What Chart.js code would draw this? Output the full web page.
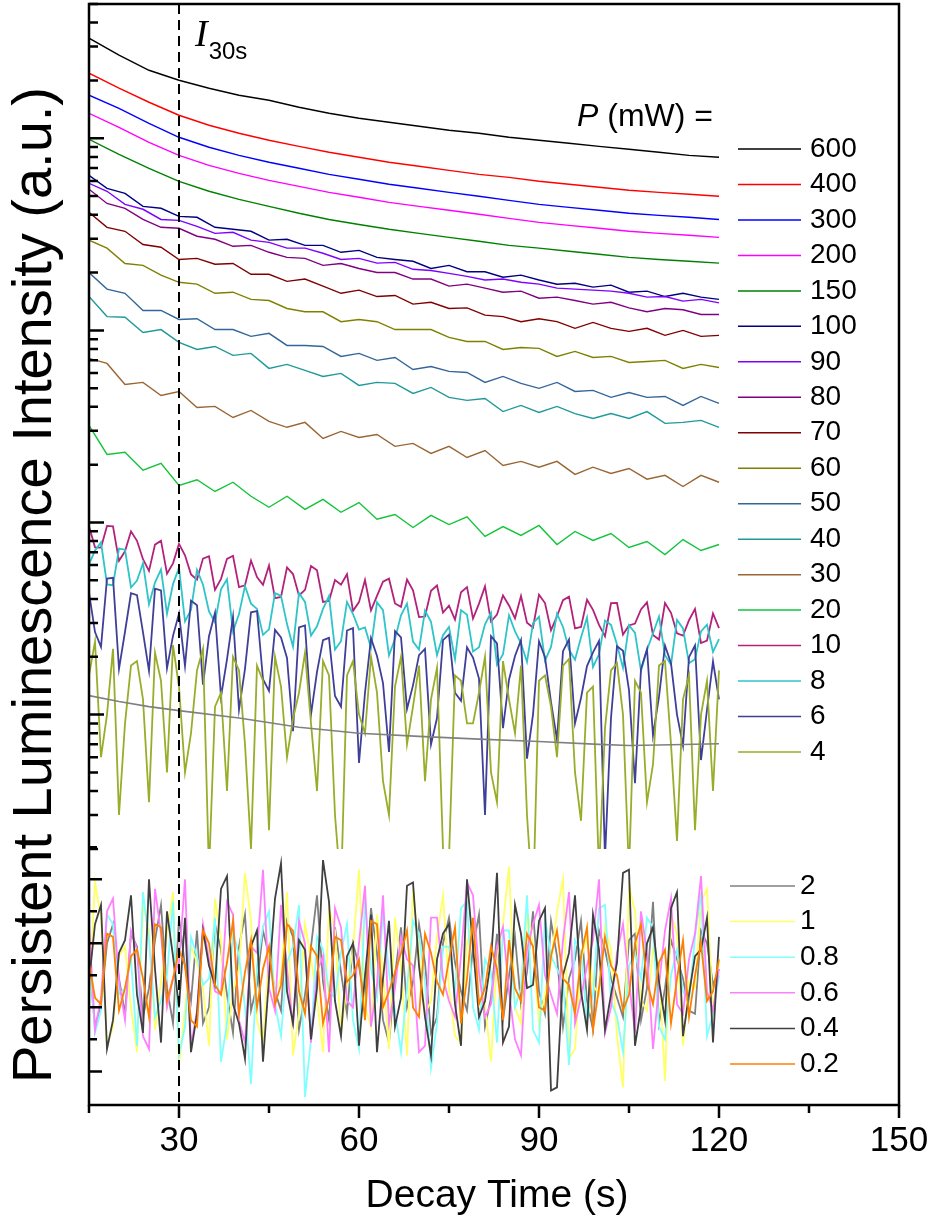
<!DOCTYPE html>
<html>
<head>
<meta charset="utf-8">
<script src="https://cdn.jsdelivr.net/npm/chart.js@4.4.1/dist/chart.umd.min.js"></script>
<style>
  html, body { margin: 0; padding: 0; background: #fff; }
  canvas { display: block; }
</style>
</head>
<body>
<canvas id="decayChart" width="935" height="1228"></canvas>
<script>
// --- sample times (s) ---
const t5 = [15,20,25,30,35,40,45,50,55,60,65,70,75,80,85,90,95,100,105,110,115,120];
const t3 = [15,18,21,24,27,30,33,36,39,42,45,48,51,54,57,60,63,66,69,72,75,78,81,84,87,90,93,96,99,102,105,108,111,114,117,120];
const t2 = [15,17,19,21,23,25,27,29,31,33,35,37,39,41,43,45,47,49,51,53,55,57,59,61,63,65,67,69,71,73,75,77,79,81,83,85,87,89,91,93,95,97,99,101,103,105,107,109,111,113,115,117,119,120];
const t2b = [16,18,20,22,24,26,28,30,32,34,36,38,40,42,44,46,48,50,52,54,56,58,60,62,64,66,68,70,72,74,76,78,80,82,84,86,88,90,92,94,96,98,100,102,104,106,108,110,112,114,116,118];
const tGray = [15,20,25,30,40,50,60,70,80,90,100,105,110,120];

// --- upper panel (log axis), intensity in a.u. ---
const p600 = [3319,2706,2260,2005,1821,1675,1578,1450,1349,1271,1211,1155,1101,1062,1012,977,942,908,877,846,815,796];
const p400 = [2181,1822,1540,1318,1169,1062,976,908,846,796,750,715,681,649,626,597,576,556,536,523,511,499];
const p300 = [1675,1433,1197,1012,898,815,750,698,649,612,576,549,523,499,475,453,437,422,407,397,388,378];
const p200 = [1349,1141,953,815,723,657,604,562,523,493,464,442,422,402,383,365,352,340,328,320,313,305];
const p150 = [988,825,698,597,530,481,442,407,378,356,336,320,305,291,277,268,258,249,240,234,229,224];
const p100 = [641,549,517,442,432,392,388,344,336,328,295,298,277,277,255,261,240,234,229,210,218,202,202,189,194,183,174,176,168,172,158,160,150,156,149,145];
const p90 = [583,530,453,427,378,374,348,320,324,295,287,268,268,252,234,237,224,226,208,205,198,191,183,185,178,174,166,164,162,160,156,149,150,142,145,139];
const p80 = [543,458,432,378,344,340,309,298,274,277,255,240,237,218,223,210,200,200,185,185,170,174,166,158,160,147,149,143,137,140,131,125,130,128,121,121];
const p70 = [412,344,328,280,271,234,237,221,223,196,196,180,185,170,156,162,150,152,137,140,130,131,120,118,111,115,111,102.5,110,102.5,98.8,102.5,94.2,100,93.1,94.2];
const p60 = [295,268,223,218,194,178,174,156,158,145,143,130,125,125,111,114,111,101,101,101,91.9,87.6,87.6,79.6,81.5,80.6,73.2,77.7,72.3,73.2,68.1,68.9,69.8,63.4,66.5,64.1];
const p50 = [200,164,156,127,127,114,115,101,101,93.1,96.5,83.5,83.5,82.5,73.2,75.9,69.8,72.3,62.6,64.9,61.2,60.4,53.6,57.6,53.0,49.9,53.6,48.1,48.7,44.8,47.5,44.8,45.3,40.7,45.3,41.7];
const p40 = [150,118,117,97.6,101,86.6,79.6,82.5,74.1,75.9,63.4,66.5,61.9,57.6,59.7,51.7,53.6,53.0,47.0,50.5,44.8,43.2,44.2,37.8,40.7,37.4,40.2,36.9,34.8,36.9,34.8,37.8,32.8,33.2,34.0,31.3];
const p30 = [71.5,67.3,52.3,53.6,45.8,48.1,39.7,40.2,35.2,38.3,33.6,31.3,33.2,27.4,29.8,27.7,28.7,24.9,25.8,22.9,24.9,21.8,23.7,19.8,20.8,19.4,20.8,17.8,19.4,18.0,19.1,16.8,17.6,15.4,17.6,16.2];
const p20 = [32.0,22.6,23.2,18.7,20.3,15.6,16.7,14.5,16.2,13.7,12.0,13.7,11.7,13.2,11.3,12.7,10.4,11.0,9.42,10.9,9.76,10.7,8.46,9.53,8.56,9.65,7.68,8.98,8.06,8.76,7.41,7.96,6.81,8.15,7.15,7.68];
// noisy series: values at t2 plus values at t2b
const p10 = [9.56,7.40,9.56,7.08,8.03,5.60,8.04,6.13,6.75,5.04,6.67,5.09,6.71,4.71,5.2,5.97,4.1,5.39,4.46,5.64,3.91,4.75,3.47,5.02,4.15,5.1,3.64,4.43,3.24,4.70,3.69,4.33,3.16,4.65,3.32,3.70,4.14,2.84,3.81,3.25,4.11,2.86,3.51,2.56,3.81,2.91,3.53,2.60,3.81,2.65,3.10,2.36,3.36,2.82];
const p10b = [7.43,9.60,6.32,9.0,6.44,7.67,5.41,7.75,5.37,6.49,4.46,6.47,4.61,6.34,4.74,4.04,5.84,4.17,5.94,3.86,5.02,5.38,3.85,3.49,4.92,3.79,5.05,3.22,4.41,3.40,3.12,4.61,3.78,3.05,4.17,3.17,3.01,4.21,2.75,3.94,2.81,3.96,2.93,3.80,2.61,2.98,3.84,2.46,3.39,2.58,3.55,2.43];
const p8 = [6.06,7.88,4.72,7.22,4.99,3.75,5.7,4.78,3.06,5.67,3.44,4.49,2.71,4.67,3.55,2.78,4.15,2.26,3.86,2.88,4.14,2.41,3.34,2.84,3.84,2.03,3.29,2.40,3.48,2.04,2.86,3.50,2.13,2.95,1.82,3.29,2.35,2.99,1.91,3.35,2.18,2.52,1.77,3.09,2.32,2.92,1.69,2.65,2.04,3.11,1.85,2.71,2.12,2.47];
const p8b = [7.15,4.76,7.32,4.59,6.14,4.87,3.35,5.80,3.51,4.74,3.02,5.06,3.34,3.78,2.60,4.29,2.96,4.29,2.58,3.55,2.18,3.86,2.77,2.23,3.50,2.48,3.78,2.18,3.04,2.59,1.94,3.31,2.24,3.39,2.06,2.71,1.88,3.23,2.25,2.86,1.93,3.20,2.06,2.93,1.75,2.66,2.17,3.24,1.82,2.81,1.94,2.94];
const p6 = [4.32,2.25,5.15,2.70,4.19,1.69,4.43,2.57,1.79,3.71,2.56,1.24,3.23,1.73,3.46,1.33,2.52,0.82,2.91,1.67,2.51,1.10,2.82,1.30,2.02,0.64,2.52,1.42,2.20,0.96,2.61,1.18,1.98,0.3,2.35,1.52,2.44,1.00,1.99,0.74,2.46,1.22,2.11,0.18,2.27,1.34,1.73,0.78,2.29,1.00,1.99,0.58,1.89,1.20];
const p6b = [2.69,5.11,1.73,4.29,2.68,4.52,1.74,3.36,3.92,1.43,3.39,1.94,1.06,3.41,1.53,2.76,1.97,2.84,1.0,2.44,1.25,2.74,0.56,2.50,1.46,2.72,1.07,2.04,0.70,2.44,1.30,2.24,1.54,2.56,0.85,2.02,0.59,2.41,1.16,2.14,0.90,1.79,2.42,0.96,2.15,0.44,2.19,1.24,1.85,0.69,2.29,1.06];
const p4 = [1.6,0.6,2.2,0.9,1.9,0.35,1.5,2.3,0.5,1.7,0.15,1.3,2.0,0.7,1.8,0.25,1.4,0.95,2.1,0.4,1.6,0.12,1.9,0.8,1.3,0.3,2.0,1.1,0.45,1.75,0.18,1.5,0.9,2.0,0.35,1.2,1.8,0.1,1.6,0.6,1.95,0.28,1.4,0.85,1.85,0.15,1.3,0.55,1.9,0.22,1.6,1.0,0.4,1.7];
const p4b = [2.4,1.0,0.3,1.8,1.2,2.1,0.5,1.4,0.8,2.2,1.1,0.4,1.7,0.2,1.5,2.0,0.6,1.3,0.9,1.9,0.3,1.6,1.0,2.0,0.45,1.4,0.7,1.8,1.2,0.2,1.6,0.9,1.3,0.5,1.9,0.8,0.3,1.5,1.1,1.8,0.5,1.3,0.15,1.7,1.0,1.5,0.35,1.8,0.7,1.2,0.25,1.5];
const pGray = [1.256,1.17,1.10,1.049,0.96,0.86,0.80,0.77,0.745,0.725,0.70,0.69,0.695,0.705];

// --- lower panel (linear axis) ---
const p2 = [3.5,2.1,4.6,1.8,3.9,2.6,5.2,1.5,3.3,4.4,2.0,3.8,1.2,4.9,2.7,3.6,1.9,4.2,2.4,5.5,1.6,3.1,4.0,2.2,3.7,0.9,4.5,2.8,3.4,1.7,4.8,2.5,3.9,1.4,4.3,3.0,2.1,5.0,1.8,3.6,2.9,4.7,1.3,3.8,2.3,4.1,1.6,5.3,2.6,3.5,1.9,4.4,2.7,3.2];
const p2b = [1.4,4.0,2.9,4.3,1.7,4.1,2.6,4.8,2.2,1.5,4.6,2.4,3.9,1.9,4.4,2.5,4.7,1.3,3.9,2.8,4.5,1.8,3.3,5.1,1.6,3.0,2.0,4.6,1.2,4.0,3.4,1.9,4.9,2.3,1.6,4.2,3.1,2.5,4.7,1.4,3.5,2.2,4.4,2.9,1.7,4.3,2.6,1.5,4.1,2.9,1.8,4.0];
const p1 = [2.2,4.8,1.4,3.9,0.6,4.4,2.8,5.6,1.9,3.4,0.8,4.1,2.5,6.2,1.6,3.7,2.9,0.5,4.6,2.3,5.1,1.2,3.8,2.0,4.9,0.7,3.3,5.7,1.8,4.2,2.6,0.9,4.7,2.1,3.6,6.4,1.5,3.9,2.4,5.0,0.4,3.5,2.7,4.5,1.1,5.8,2.2,3.8,-0.3,4.3,2.8,5.3,1.7,3.4];
const p1b = [5.9,0.8,3.6,2.0,5.2,1.3,4.3,0.2,3.9,2.6,5.4,1.0,3.2,4.7,0.9,2.5,5.6,1.8,3.5,0.6,4.4,2.7,6.3,1.4,3.1,4.8,0.5,3.7,2.2,5.5,1.1,4.0,2.9,0.3,4.6,2.0,5.1,1.5,3.4,6.0,0.7,4.2,2.4,3.8,-0.5,5.0,1.9,3.3,4.9,0.8,2.6,5.7];
const p08 = [3.8,1.9,4.6,2.6,0.8,4.1,2.2,5.3,1.4,3.6,2.9,0.3,4.4,2.0,3.3,5.0,1.1,3.9,-0.8,4.2,2.5,3.7,1.6,5.4,2.3,3.1,0.6,4.7,2.8,1.5,3.9,5.1,2.0,3.5,0.9,4.4,2.6,1.3,4.8,3.2,0.2,3.7,2.4,5.2,1.7,3.3,2.9,4.5,1.0,3.8,2.2,5.6,1.8,3.0];
const p08b = [1.2,4.9,2.4,3.5,5.6,1.7,3.0,0.5,4.2,2.7,4.8,1.5,3.6,-0.4,4.5,2.1,3.4,5.2,1.0,3.8,2.3,4.6,0.7,3.2,5.0,1.9,2.6,4.3,0.1,3.9,2.5,5.3,1.3,3.1,4.4,2.0,5.5,0.9,3.6,2.8,4.1,1.6,5.1,2.2,0.6,3.7,4.8,1.4,3.0,2.5,4.2,1.1];
const p06 = [4.6,2.3,5.4,1.6,3.8,0.7,4.3,2.9,6.0,1.9,3.5,2.4,4.9,0.9,3.7,2.6,5.2,1.4,4.0,3.1,0.6,4.5,2.0,5.8,2.7,1.5,4.2,3.3,0.8,4.8,2.2,3.6,5.5,1.7,3.9,2.5,0.5,4.6,3.0,1.8,5.6,2.3,4.1,1.2,3.7,2.8,5.0,0.7,4.4,2.1,3.5,6.1,1.9,3.2];
const p06b = [1.3,5.0,2.8,4.4,1.1,5.7,2.0,3.4,0.8,4.6,2.5,5.3,1.6,3.9,6.3,1.9,3.2,4.7,0.9,3.6,5.1,2.2,4.0,1.4,5.5,2.6,3.5,0.6,4.8,2.9,1.7,5.9,3.1,2.1,4.5,1.0,3.8,5.2,2.4,4.1,1.5,3.3,6.0,2.0,4.6,1.2,3.7,2.7,5.4,1.8,4.3,2.5];
const p04 = [2.8,5.2,1.6,4.1,2.4,6.0,0.9,3.6,4.8,1.8,3.3,5.7,2.1,0.4,4.4,2.9,6.5,1.5,3.8,2.6,5.3,1.1,4.0,3.0,0.6,4.7,2.3,5.9,1.7,3.5,4.6,0.8,3.9,2.2,6.2,1.4,4.3,2.7,5.1,-0.5,3.7,2.5,4.9,1.3,3.4,6.3,2.0,4.5,1.6,5.6,2.4,3.8,0.9,4.2];
const p04b = [4.6,0.7,3.7,5.5,1.2,3.2,5.0,2.0,0.6,4.4,2.7,6.1,1.5,3.9,0.3,5.4,2.5,4.1,1.0,6.6,2.2,3.6,0.8,4.9,2.9,1.4,5.8,3.3,0.5,4.3,2.1,6.0,1.7,3.5,0.9,5.2,2.6,4.7,-0.6,3.0,5.5,1.3,3.8,2.4,6.2,0.8,4.0,2.8,5.1,1.1,3.6,4.8];
const p02 = [3.4,2.1,4.2,2.6,3.8,1.7,4.5,2.9,3.3,1.4,4.0,2.4,4.7,3.1,2.0,3.9,2.7,4.4,1.8,3.6,2.3,4.1,3.0,1.6,4.6,2.5,3.7,2.0,4.3,2.8,3.5,1.5,4.8,2.6,3.2,4.1,2.2,3.9,1.9,4.4,2.7,3.6,1.3,4.2,3.0,2.4,4.6,2.1,3.8,2.9,1.7,4.0,2.5,3.5];
const p02b = [2.3,4.3,1.9,3.6,2.9,4.6,2.2,3.8,1.6,4.4,2.7,3.4,1.8,4.1,3.2,2.1,4.6,2.5,3.9,1.5,4.2,2.8,3.5,4.7,2.0,3.1,4.4,1.7,3.7,2.4,4.5,2.9,2.1,3.9,1.6,2.6,4.3,2.0,3.6,2.9,1.8,4.5,2.6,3.3,1.9,4.0,2.8,3.4,1.5,4.1,3.0,2.2];

// legend labels (P in mW)
const upperLabels = ['600','400','300','200','150','100','90','80','70','60','50','40','30','20','10','8','6','4'];
const lowerLabels = ['2','1','0.8','0.6','0.4','0.2'];
const xTickLabels = [30, 60, 90, 120, 150];
const markerTime = 30;

// series in drawing order: [times, values, extra times, extra values, colour]
const upperSeries = [
  [t5, p600, null, null, '#000000'], [t5, p400, null, null, '#ff0000'],
  [t5, p300, null, null, '#0000ff'], [t5, p200, null, null, '#ff00ff'],
  [t5, p150, null, null, '#008000'], [t3, p100, null, null, '#000080'],
  [t3, p90, null, null, '#7f00ff'], [t3, p80, null, null, '#800080'],
  [t3, p70, null, null, '#800000'], [t3, p60, null, null, '#808000'],
  [t3, p50, null, null, '#336699'], [t3, p40, null, null, '#1f9999'],
  [t3, p30, null, null, '#996633'], [t3, p20, null, null, '#11c43a'],
  [t2, p10, t2b, p10b, '#b3227a'], [t2, p8, t2b, p8b, '#2ec4c8'],
  [t2, p6, t2b, p6b, '#3f3f99'], [t2, p4, t2b, p4b, '#99ad2b']
];
const lowerSeries = [
  [t2, p2, t2b, p2b, '#808080'], [t2, p1, t2b, p1b, '#ffff66'],
  [t2, p08, t2b, p08b, '#80ffff'], [t2, p06, t2b, p06b, '#ff80ff'],
  [t2, p04, t2b, p04b, '#404040'], [t2, p02, t2b, p02b, '#ff8000']
];

const FONT = '"Liberation Sans", Arial, sans-serif';

function makeSet(s, axis) {
    let pts = s[0].map((t, i) => ({ x: t, y: s[1][i] }));
    if (s[2]) {
        pts = pts.concat(s[2].map((t, i) => ({ x: t, y: s[3][i] })));
        pts.sort((a, b) => a.x - b.x);
    }
    return {
        data: pts,
        borderColor: s[4],
        borderWidth: s[2] ? 1.8 : 1.4,
        pointRadius: 0,
        tension: 0,
        fill: false,
        yAxisID: axis
    };
}

let datasets = [];
upperSeries.forEach(s => datasets.push(makeSet(s, 'yUp')));
let gray = makeSet([tGray, pGray, null, null, '#808080'], 'yUp');
gray.borderWidth = 1.6;
datasets.push(gray);
lowerSeries.forEach(s => datasets.push(makeSet(s, 'yLow')));
// chart.js draws dataset 0 last (on top), so reverse
datasets.reverse();

// keep each dataset inside its own panel
const panelClip = {
    id: 'panelClip',
    beforeDatasetDraw(chart, args) {
        const ys = chart.scales[args.meta.yAxisID];
        const a = chart.chartArea;
        chart.ctx.save();
        chart.ctx.beginPath();
        chart.ctx.rect(a.left, ys.top, a.right - a.left, ys.bottom - ys.top);
        chart.ctx.clip();
    },
    afterDatasetDraw(chart) {
        chart.ctx.restore();
    }
};

// frame, inward ticks, marker line, legend and labels
const decorations = {
    id: 'decorations',
    afterDraw(chart) {
        const { ctx, chartArea: a, scales } = chart;
        const xs = scales.x, yu = scales.yUp, yl = scales.yLow;
        ctx.save();

        // marker line at 30 s
        const xm = xs.getPixelForValue(markerTime);
        ctx.strokeStyle = '#000';
        ctx.lineWidth = 2;
        ctx.setLineDash([10, 6]);
        ctx.beginPath();
        ctx.moveTo(xm, a.top);
        ctx.lineTo(xm, a.bottom);
        ctx.stroke();
        ctx.setLineDash([]);

        // frame
        ctx.lineWidth = 2.5;
        ctx.strokeRect(a.left, a.top, a.right - a.left, a.bottom - a.top);

        ctx.beginPath();
        // bottom ticks (outward)
        xs.ticks.forEach(tk => {
            const x = xs.getPixelForValue(tk.value);
            const len = tk.value % 30 === 0 ? 13 : 8;
            ctx.moveTo(x, a.bottom);
            ctx.lineTo(x, a.bottom + len);
        });
        // upper panel log ticks (inward)
        for (let e = -1; e <= 3; e++) {
            for (let k = 1; k <= 9; k++) {
                const v = k * Math.pow(10, e);
                if (v < yu.min - 1e-9 || v > yu.max + 1e-9) continue;
                const y = yu.getPixelForValue(v);
                ctx.moveTo(a.left, y);
                ctx.lineTo(a.left + (k === 1 ? 15 : 9), y);
            }
        }
        // lower panel ticks
        for (let v = 0; v <= 7; v++) {
            const y = yl.getPixelForValue(v);
            if (y < yl.top - 4) continue;
            ctx.moveTo(a.left, y);
            ctx.lineTo(a.left + (v % 2 === 0 ? 13 : 8), y);
        }
        ctx.stroke();

        // legend
        ctx.textBaseline = 'middle';
        ctx.textAlign = 'left';
        ctx.font = '28px ' + FONT;
        ctx.lineWidth = 1.5;
        upperLabels.forEach((lab, i) => {
            const y = 149 + i * 35.47;
            ctx.strokeStyle = upperSeries[i][4];
            ctx.beginPath();
            ctx.moveTo(738, y);
            ctx.lineTo(801, y);
            ctx.stroke();
            ctx.fillStyle = '#000';
            ctx.fillText(lab, 810, y);
        });
        lowerLabels.forEach((lab, i) => {
            const y = 886 + i * 35.6;
            ctx.strokeStyle = lowerSeries[i][4];
            ctx.beginPath();
            ctx.moveTo(730, y);
            ctx.lineTo(795, y);
            ctx.stroke();
            ctx.fillStyle = '#000';
            ctx.fillText(lab, 800, y);
        });

        // legend header: P (mW) =
        ctx.fillStyle = '#000';
        ctx.font = 'italic 32px ' + FONT;
        ctx.fillText('P', 577, 117);
        let w = ctx.measureText('P').width;
        ctx.font = '32px ' + FONT;
        ctx.fillText(' (mW) =', 577 + w, 117);

        // I_30s label
        ctx.font = 'italic 38px "Liberation Serif", "Times New Roman", serif';
        ctx.fillText('I', 195, 36);
        w = ctx.measureText('I').width;
        ctx.font = '24px ' + FONT;
        ctx.fillText('30s', 196 + w, 52);

        // axis titles
        ctx.textAlign = 'center';
        ctx.font = '39px ' + FONT;
        ctx.fillText('Decay Time (s)', 497, 1196);
        ctx.save();
        ctx.translate(36, 585);
        ctx.rotate(-Math.PI / 2);
        ctx.font = '56px ' + FONT;
        ctx.fillText('Persistent Luminescence Intensity (a.u.)', 0, 0);
        ctx.restore();

        ctx.restore();
    }
};

const ctx = document.getElementById('decayChart').getContext('2d');
const myChart = new Chart(ctx, {
    type: 'line',
    data: { datasets: datasets },
    plugins: [panelClip, decorations],
    options: {
        responsive: false,
        animation: false,
        devicePixelRatio: 1,
        layout: { padding: { left: 89, right: 36, top: 4, bottom: 0 } },
        scales: {
            x: {
                type: 'linear',
                min: 15,
                max: 150,
                ticks: {
                    stepSize: 15,
                    color: '#000',
                    padding: 7,
                    maxRotation: 0,
                    font: { size: 35, family: FONT },
                    callback: v => xTickLabels.includes(v) ? String(v) : ''
                },
                grid: { display: false },
                border: { display: false },
                afterFit: s => { s.height = 123; s.paddingLeft = 0; s.paddingRight = 0; }
            },
            yLow: {
                type: 'linear',
                position: 'left',
                stack: 'left',
                stackWeight: 256,
                min: -1.05,
                max: 6.95,
                ticks: { display: false },
                grid: { display: false },
                border: { display: false },
                afterFit: s => { s.width = 0; }
            },
            yUp: {
                type: 'logarithmic',
                position: 'left',
                stack: 'left',
                stackWeight: 844.5,
                min: 0.2,
                max: 5000,
                ticks: { display: false },
                grid: { display: false },
                border: { display: false },
                afterFit: s => { s.width = 0; }
            }
        },
        plugins: {
            legend: { display: false },
            tooltip: { enabled: false }
        }
    }
});
</script>
</body>
</html>
